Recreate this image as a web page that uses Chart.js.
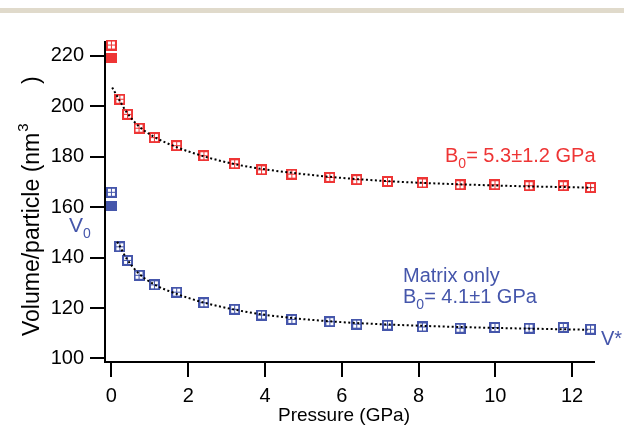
<!DOCTYPE html>
<html>
<head>
<meta charset="utf-8">
<script src="https://cdn.jsdelivr.net/npm/chart.js@4.4.0/dist/chart.umd.min.js"></script>
<style>
  html, body { margin: 0; padding: 0; background: #ffffff; }
  #wrap { width: 624px; height: 430px; position: relative; }
</style>
</head>
<body>
<div id="wrap"><canvas id="c" width="624" height="430"></canvas></div>
<script>
// ---- data ----
const pressure = [0, 0.22, 0.42, 0.72, 1.12, 1.70, 2.41, 3.21, 3.91, 4.70, 5.69, 6.39, 7.19, 8.10, 9.08, 9.99, 10.88, 11.77, 12.48];
const volumeAll = [224.3, 202.8, 196.8, 191.3, 187.6, 184.4, 180.4, 177.2, 174.8, 173.1, 171.8, 170.9, 170.2, 169.6, 168.9, 168.9, 168.5, 168.5, 167.8];
const volumeMatrix = [165.9, 144.3, 138.9, 133.0, 129.2, 126.3, 122.1, 119.5, 117.2, 115.5, 114.6, 113.6, 113.2, 112.5, 112.0, 112.3, 112.0, 112.3, 111.6];
const v0Pressure = [0];
const v0All = [219.0];
const v0Matrix = [160.6];
const fitPressureAll = [0.02, 0.2, 0.4, 0.7, 1.1, 1.7, 2.4, 3.2, 4, 5, 6, 7, 8, 9, 10, 11, 12, 12.5];
const fitAll = [207.5, 202.6, 197.6, 192.3, 188.0, 183.8, 180.2, 177.1, 175.0, 173.1, 171.6, 170.5, 169.7, 169.1, 168.6, 168.2, 167.9, 167.7];
const fitPressureMatrix = [0.15, 0.2, 0.4, 0.7, 1.1, 1.7, 2.4, 3.2, 4, 5, 6, 7, 8, 9, 10, 11, 12, 12.4];
const fitMatrix = [146.3, 145.0, 139.5, 133.9, 129.5, 125.6, 122.2, 119.4, 117.3, 115.6, 114.4, 113.6, 113.0, 112.5, 112.1, 111.8, 111.5, 111.4];
const xTicks = [0, 2, 4, 6, 8, 10, 12];
const yTicks = [100, 120, 140, 160, 180, 200, 220];

const RED = '#ee3535';
const BLUE = '#4556ab';
const FONT = '"Liberation Sans", Arial, Helvetica, sans-serif';

function crossSquare(color) {
  const c = document.createElement('canvas');
  c.width = 11; c.height = 11;
  const g = c.getContext('2d');
  g.fillStyle = color;
  g.fillRect(0, 0, 11, 11);
  g.fillStyle = '#ffffff';
  g.fillRect(2, 2, 3, 3); g.fillRect(6, 2, 3, 3);
  g.fillRect(2, 6, 3, 3); g.fillRect(6, 6, 3, 3);
  return c;
}
function solidSquare(color) {
  const c = document.createElement('canvas');
  c.width = 11; c.height = 10;
  const g = c.getContext('2d');
  g.fillStyle = color;
  g.fillRect(0, 0, 11, 10);
  return c;
}
function pts(xs, ys) { return xs.map((x, i) => ({ x: x, y: ys[i] })); }

const fitStyle = {
  showLine: true, borderColor: '#000', borderWidth: 2, borderDash: [2, 2.5],
  pointRadius: 0, cubicInterpolationMode: 'monotone', fill: false
};
const markerStyle = (img) => ({ showLine: false, pointStyle: img, pointRadius: 5, pointHoverRadius: 5 });

const overlay = {
  id: 'overlay',
  beforeDraw(chart) {
    const ctx = chart.ctx;
    ctx.save();
    ctx.fillStyle = '#ffffff';
    ctx.fillRect(0, 0, chart.width, chart.height);
    ctx.fillStyle = '#e0dacb';
    ctx.fillRect(0, 8, chart.width, 5);
    ctx.restore();
  },
  afterDraw(chart) {
    const ctx = chart.ctx;
    ctx.save();
    ctx.textBaseline = 'alphabetic';
    ctx.textAlign = 'left';
    function sub(x, y, main, subTxt, rest, color, size) {
      ctx.fillStyle = color;
      ctx.font = size + 'px ' + FONT;
      ctx.fillText(main, x, y);
      let w = ctx.measureText(main).width;
      ctx.font = Math.round(size * 0.68) + 'px ' + FONT;
      ctx.fillText(subTxt, x + w, y + size * 0.28);
      w += ctx.measureText(subTxt).width;
      if (rest) {
        ctx.font = size + 'px ' + FONT;
        ctx.fillText(rest, x + w, y);
      }
    }
    sub(445, 162, 'B', '0', '= 5.3\u00b11.2 GPa', RED, 20);
    ctx.fillStyle = BLUE;
    ctx.font = '20px ' + FONT;
    ctx.fillText('Matrix only', 403, 282);
    sub(403, 303, 'B', '0', '= 4.1\u00b11 GPa', BLUE, 20);
    sub(69, 232, 'V', '0', '', BLUE, 21);
    ctx.fillStyle = BLUE;
    ctx.font = '20px ' + FONT;
    ctx.fillText('V*', 601, 345);

    // x axis title
    ctx.fillStyle = '#000';
    ctx.font = '19px ' + FONT;
    ctx.textAlign = 'center';
    ctx.fillText('Pressure (GPa)', 344, 421);

    // y axis title (rotated), starts at the bottom (y = 336) and reads upward
    ctx.translate(38.5, 336);
    ctx.rotate(-Math.PI / 2);
    ctx.textAlign = 'left';
    const a = 'Volume/particle (nm';
    ctx.font = '23px ' + FONT;
    const wa = ctx.measureText(a).width;
    ctx.fillText(a, 0, 0);
    ctx.font = '15px ' + FONT;
    ctx.fillText('3', wa + 1, -11);
    ctx.font = '23px ' + FONT;
    ctx.fillText(')', 252, 0);
    ctx.restore();
  }
};

new Chart(document.getElementById('c'), {
  type: 'scatter',
  data: {
    datasets: [
      Object.assign({ label: 'fit all', data: pts(fitPressureAll, fitAll) }, fitStyle),
      Object.assign({ label: 'fit matrix', data: pts(fitPressureMatrix, fitMatrix) }, fitStyle),
      Object.assign({ label: 'all', data: pts(pressure, volumeAll) }, markerStyle(crossSquare(RED))),
      Object.assign({ label: 'matrix', data: pts(pressure, volumeMatrix) }, markerStyle(crossSquare(BLUE))),
      Object.assign({ label: 'V0 all', data: pts(v0Pressure, v0All) }, markerStyle(solidSquare(RED))),
      Object.assign({ label: 'V0 matrix', data: pts(v0Pressure, v0Matrix) }, markerStyle(solidSquare(BLUE)))
    ]
  },
  options: {
    responsive: false,
    animation: false,
    devicePixelRatio: 1,
    clip: false,
    layout: { padding: { top: 42, right: 30, left: 0, bottom: 0 } },
    plugins: { legend: { display: false }, tooltip: { enabled: false } },
    scales: {
      x: {
        type: 'linear', min: -0.167, max: 12.57,
        afterBuildTicks: (s) => { s.ticks = xTicks.map(v => ({ value: v })); },
        afterFit: (s) => { s.height = 68; },
        ticks: { font: { size: 20, family: FONT }, color: '#000', padding: 7, maxRotation: 0 },
        grid: { drawOnChartArea: false, drawTicks: true, tickLength: 15, tickWidth: 2, tickColor: '#000', color: '#000', lineWidth: 2 },
        border: { display: true, color: '#000', width: 2 }
      },
      y: {
        type: 'linear', min: 98.6, max: 225.5,
        afterBuildTicks: (s) => { s.ticks = yTicks.map(v => ({ value: v })); },
        afterFit: (s) => { s.width = 105; },
        ticks: { font: { size: 20, family: FONT }, color: '#000', padding: 6 },
        grid: { drawOnChartArea: false, drawTicks: true, tickLength: 15, tickWidth: 2, tickColor: '#000', color: '#000', lineWidth: 2 },
        border: { display: true, color: '#000', width: 2 }
      }
    }
  },
  plugins: [overlay]
});
</script>
</body>
</html>
